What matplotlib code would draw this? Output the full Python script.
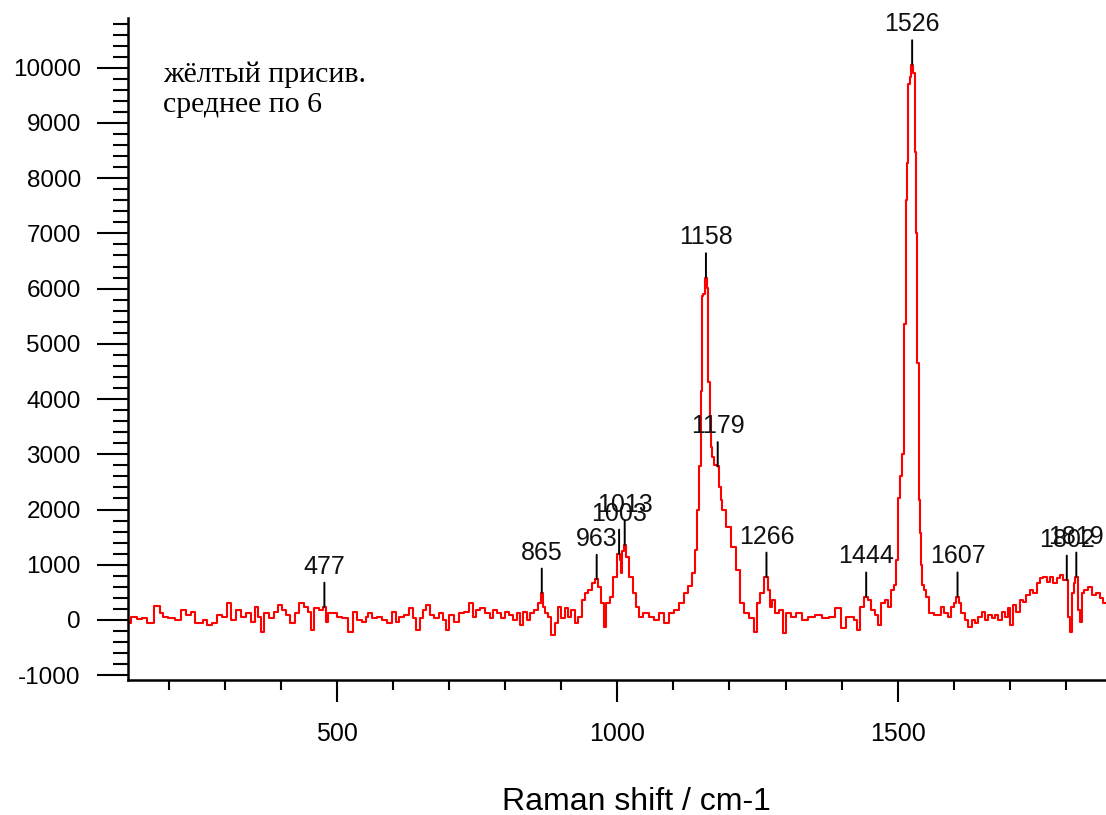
# Raman spectrum, yellow sample (average of 6), peaks labelled
import matplotlib.pyplot as plt
from matplotlib.ticker import MultipleLocator

plt.rcParams['axes.unicode_minus'] = False

# spectrum: Raman shift (cm-1) and intensity
shift = [126, 130, 132.5, 138.5, 147, 156, 165, 180, 186, 192, 204, 216, 225, 234, 243,
         248, 257, 263, 272, 281, 290, 299, 308, 314, 323, 332, 341, 350, 356, 362,
         367, 373, 382, 391, 397, 406, 412, 421, 427, 436, 445, 451, 455, 463, 472,
         477, 481, 487, 496, 504, 513, 525, 532, 540, 549,
         552, 558, 567, 576, 585, 594, 600, 608, 614, 623, 632, 638, 644, 650, 656,
         662, 668, 677, 686, 692, 696, 704, 713, 722, 731, 739, 745, 751, 760, 769,
         775, 781, 790, 796, 802, 811, 817, 823, 829, 835, 841, 847, 856, 861, 865,
         869, 873, 879, 885, 891, 897, 903, 909, 915, 921, 927, 933, 939, 945, 951,
         957, 963, 968, 974, 978, 983, 989, 995, 1003, 1005, 1008, 1010, 1013, 1018, 1024,
         1030, 1036, 1042, 1051, 1060, 1069, 1078, 1087, 1096, 1105, 1114, 1123, 1130, 1136, 1141,
         1144, 1147, 1150, 1152, 1155, 1158, 1161, 1163, 1166, 1168, 1171, 1175, 1179, 1183, 1186,
         1189, 1198, 1207, 1216, 1222, 1231, 1240, 1247, 1252, 1258, 1266, 1270, 1274, 1278, 1284,
         1293, 1298, 1305, 1314, 1323, 1335, 1347, 1359, 1371, 1383, 1395, 1404, 1412, 1418, 1426,
         1430, 1435, 1444, 1450, 1456, 1462, 1468, 1474, 1480, 1486, 1492, 1496, 1499, 1502, 1506,
         1510, 1513, 1515.5, 1517.5, 1520, 1523, 1526, 1529, 1531.5, 1534, 1536.5, 1538.5, 1540.5, 1542.5, 1545,
         1549, 1553, 1558, 1563, 1568, 1574, 1580, 1586, 1593, 1599, 1603, 1607, 1611, 1617, 1623,
         1629, 1635, 1641, 1647, 1653, 1659, 1665, 1671, 1677, 1683, 1689, 1695, 1700, 1703, 1709,
         1715, 1721, 1727, 1733, 1739, 1745, 1751, 1757, 1763, 1769, 1775, 1781, 1787, 1793, 1799,
         1802, 1806, 1809, 1812, 1816, 1819, 1824, 1827, 1830, 1836, 1843, 1852, 1858, 1864, 1870,
         1876, 1878]
intensity = [-30, -60, 60, 60, 12, 30, -60, 253, 121, 60, 30, 0, 181, 91, 151,
             -60, -60, 0, -91, -60, 91, 60, 302, 0, 181, 60, 121, -30, 241, 60,
             -211, 121, 30, 151, 272, 181, 91, -60, 121, 302, 241, 151, -181, 211, 181,
             241, -30, 121, 121, 60, 30, -211, 151, 0, -30,
             60, 121, 30, 60, 0, -60, 151, -30, 60, 91, 211, 30, -181, 30, 181,
             272, 91, 30, 121, 0, -181, 91, -30, 121, 151, 302, 60, 181, 211, 121,
             30, 181, 121, 30, 151, 91, 0, 121, -91, 151, 0, 121, 181, 300, 490,
             241, 121, 60, -271, -60, 241, 30, 211, 60, 181, -60, 60, 362, 483, 544,
             665, 740, 600, 308, -121, 308, 422, 785, 1200, 1087, 850, 1250, 1360, 1147, 785,
             483, 241, 60, 121, 60, 0, 121, -60, 121, 181, 308, 483, 620, 850, 1270,
             2000, 2780, 4140, 5860, 5900, 6200, 6020, 4300, 3700, 3140, 2950, 2800, 2780, 2400, 2180,
             2000, 1690, 1330, 906, 308, 121, 30, -211, 300, 483, 780, 544, 241, 362, 121,
             181, -241, 121, 60, 121, 0, 60, 91, 30, 60, 211, -145, 60, 60, 0,
             -181, 241, 420, 362, 181, 91, -91, 302, 362, 241, 544, 640, 1090, 2200, 2600,
             3000, 5360, 7600, 8280, 9700, 9840, 10057, 9900, 8480, 7000, 4650, 2170, 1580, 1000, 630,
             540, 420, 127, 127, 90, 91, 236, 127, 60, 242, 300, 420, 302, 121, 0,
             -121, 0, -60, 60, 151, 0, 91, 30, 91, 0, 151, 60, 211, -91, 272,
             151, 362, 332, 453, 544, 483, 664, 755, 785, 695, 785, 664, 755, 815, 725,
             725, 60, -211, 483, 664, 780, 181, -30, 483, 544, 604, 453, 483, 393, 302,
             242, 0]

# labelled peaks
peak_pos = [477, 865, 963, 1003, 1013, 1158, 1179, 1266, 1444, 1526, 1607, 1802, 1819]
peak_top = [235, 490, 740, 1195, 1360, 6200, 2780, 780, 420, 10057, 420, 725, 780]
peak_labels = [str(p) for p in peak_pos]

fig = plt.figure(figsize=(11.06, 8.15), dpi=100)
ax = fig.add_axes([128 / 1106, 135 / 815, 978 / 1106, 662 / 815])

ax.plot(shift, intensity, color='#ff0000', lw=1.5, drawstyle='steps-mid')

for p, t, lab in zip(peak_pos, peak_top, peak_labels):
    ax.annotate('', xy=(p, t), xytext=(0, 17.5), textcoords='offset points',
                arrowprops=dict(arrowstyle='-', lw=1.4, color='black', shrinkA=0, shrinkB=0))
    ax.annotate(lab, xy=(p, t), xytext=(0, 24), textcoords='offset points',
                ha='center', va='baseline', fontsize=18, family='Liberation Sans', color='#111111')

ax.text(0.036, 0.935, 'жёлтый присив.\nсреднее по 6', transform=ax.transAxes,
        family='Liberation Serif', fontsize=21.5, va='top', ha='left', linespacing=1.22)

ax.set_xlim(126.5, 1872)
ax.set_ylim(-1087, 10900)

ax.xaxis.set_major_locator(MultipleLocator(500))
ax.xaxis.set_minor_locator(MultipleLocator(100))
ax.yaxis.set_major_locator(MultipleLocator(1000))
ax.yaxis.set_minor_locator(MultipleLocator(200))

for side in ['top', 'right']:
    ax.spines[side].set_visible(False)
for side in ['left', 'bottom']:
    ax.spines[side].set_linewidth(1.8)

ax.tick_params(axis='x', which='major', direction='out', length=16, width=1.5, pad=14)
ax.tick_params(axis='x', which='minor', direction='out', length=7.5, width=1.5)
ax.tick_params(axis='y', which='major', direction='out', length=22, width=1.5, pad=12)
ax.tick_params(axis='y', which='minor', direction='out', length=11, width=1.5)

for lbl in ax.get_xticklabels():
    lbl.set_fontsize(18)
    lbl.set_family('Liberation Sans')
for lbl in ax.get_yticklabels():
    lbl.set_fontsize(17.5)
    lbl.set_family('Liberation Sans')

ax.set_xlabel('Raman shift / cm-1', fontsize=23, family='Liberation Sans')
ax.xaxis.set_label_coords(0.52, -0.161)

fig.savefig('out.png', dpi=100)
